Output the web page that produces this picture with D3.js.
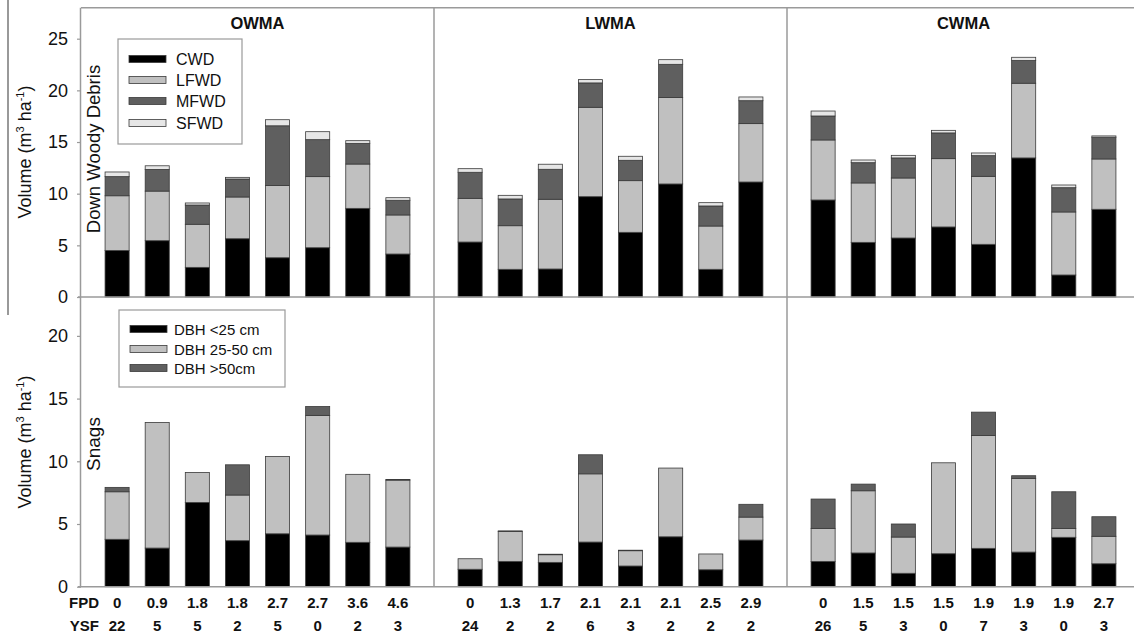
<!DOCTYPE html>
<html><head><meta charset="utf-8">
<script src="https://cdn.jsdelivr.net/npm/d3@7"></script>
<style>body{margin:0;background:#fff}svg{display:block}text{font-family:"Liberation Sans",Arial,sans-serif}</style>
</head><body>
<svg id="c" width="1134" height="638"></svg>
<script>
const areas = ["OWMA","LWMA","CWMA"];
const fpd = [["0","0.9","1.8","1.8","2.7","2.7","3.6","4.6"],["0","1.3","1.7","2.1","2.1","2.1","2.5","2.9"],["0","1.5","1.5","1.5","1.9","1.9","1.9","2.7"]];
const ysf = [["22","5","5","2","5","0","2","3"],["24","2","2","6","3","2","2","2"],["26","5","3","0","7","3","0","3"]];
const dwdKeys = ["CWD","LFWD","MFWD","SFWD"];
const snagKeys = ["DBH <25 cm","DBH 25-50 cm","DBH >50cm"];
// Down woody debris volumes per area [CWD, LFWD, MFWD, SFWD]
const dwdOWMA = [[4.5,5.3,1.85,0.45],[5.45,4.8,2.1,0.35],[2.87,4.17,1.86,0.2],[5.64,4.04,1.74,0.16],[3.8,7.0,5.77,0.59],[4.77,6.88,3.58,0.77],[8.58,4.29,2.0,0.26],[4.16,3.78,1.42,0.25]];
const dwdLWMA = [[5.32,4.23,2.52,0.35],[2.68,4.22,2.59,0.35],[2.71,6.75,2.9,0.49],[9.71,8.65,2.36,0.32],[6.26,5.0,1.97,0.39],[10.94,8.36,3.22,0.45],[2.68,4.19,1.94,0.32],[11.13,5.65,2.22,0.36]];
const dwdCWMA = [[9.39,5.81,2.32,0.48],[5.29,5.75,1.96,0.26],[5.71,5.81,1.94,0.25],[6.78,6.61,2.49,0.25],[5.1,6.58,2.0,0.26],[13.46,7.23,2.19,0.32],[2.13,6.1,2.35,0.26],[8.49,4.87,2.1,0.13]];
// Snag volumes per area [<25, 25-50, >50]
const snagOWMA = [[3.78,3.79,0.35],[3.08,10.02,0],[6.72,2.39,0],[3.67,3.64,2.41],[4.22,6.17,0],[4.12,9.54,0.71],[3.54,5.42,0],[3.16,5.34,0.04]];
const snagLWMA = [[1.39,0.84,0],[2.02,2.39,0.04],[1.94,0.61,0.04],[3.56,5.44,1.52],[1.65,1.22,0.04],[3.98,5.48,0],[1.35,1.26,0],[3.72,1.83,1.02]];
const snagCWMA = [[2.02,2.63,2.34],[2.69,4.96,0.53],[1.07,2.89,1.04],[2.63,7.25,0],[3.06,9.0,1.86],[2.76,5.88,0.21],[3.94,0.71,2.92],[1.83,2.19,1.56]];
const dwdTicks = [0,5,10,15,20,25];
const snagTicks = [0,5,10,15,20];

const dwdColors = ["#000000","#c0c0c0","#5f5f5f","#e6e6e6"];
const snagColors = ["#000000","#c0c0c0","#5f5f5f"];
const dwdData = [dwdOWMA,dwdLWMA,dwdCWMA];
const snagData = [snagOWMA,snagLWMA,snagCWMA];

const svg = d3.select("#c");
const left = 81, panelW = 353;
const panelLefts = [0,1,2].map(i => left + i*panelW);
const yTop = d3.scaleLinear().domain([0,28]).range([297,7.7]);
const yBot = d3.scaleLinear().domain([0,23.1]).range([586.7,297]);
const frame = "#9a9a9a";

function drawStack(data, keys, colors, y, pi){
  const x = d3.scaleBand().domain(d3.range(8)).range([panelLefts[pi], panelLefts[pi]+panelW]).paddingInner(0.4).paddingOuter(0.6);
  const rows = data.map(r => { const o={}; keys.forEach((k,j)=>o[k]=r[j]); return o; });
  const series = d3.stack().keys(keys)(rows);
  const g = svg.append("g");
  series.forEach((s,si) => {
    g.selectAll(null).data(s).join("rect")
      .attr("x",(d,i)=>x(i)).attr("width",x.bandwidth())
      .attr("y",d=>y(d[1])).attr("height",d=>Math.max(0,y(d[0])-y(d[1])))
      .attr("fill",colors[si]).attr("stroke","#3a3a3a").attr("stroke-width",0.8);
  });
  return x;
}

// frames
svg.append("line").attr("x1",left).attr("x2",1134).attr("y1",yTop(28)).attr("y2",yTop(28)).attr("stroke",frame).attr("stroke-width",1.5);
[0,1,2].forEach(i=>{
  drawStack(dwdData[i], dwdKeys, dwdColors, yTop, i);
  const x = drawStack(snagData[i], snagKeys, snagColors, yBot, i);
  fpd[i].forEach((t,j)=>{
    svg.append("text").attr("x",x(j)+x.bandwidth()/2).attr("y",608).attr("text-anchor","middle").attr("font-size",15).attr("font-weight","bold").attr("fill","#111").text(t);
    svg.append("text").attr("x",x(j)+x.bandwidth()/2).attr("y",631).attr("text-anchor","middle").attr("font-size",15).attr("font-weight","bold").attr("fill","#111").text(ysf[i][j]);
  });
  svg.append("text").attr("x",panelLefts[i]+panelW/2).attr("y",29).attr("text-anchor","middle").attr("font-size",16.5).attr("font-weight","bold").attr("fill","#111").text(areas[i]);
  if(i>0) svg.append("line").attr("x1",panelLefts[i]).attr("x2",panelLefts[i]).attr("y1",yTop(28)).attr("y2",yBot(0)).attr("stroke",frame).attr("stroke-width",1.5);
});
svg.append("line").attr("x1",left-3).attr("x2",1134).attr("y1",yTop(0)).attr("y2",yTop(0)).attr("stroke",frame).attr("stroke-width",1.5);
svg.append("line").attr("x1",left-3).attr("x2",1134).attr("y1",yBot(0)).attr("y2",yBot(0)).attr("stroke",frame).attr("stroke-width",1.5);
svg.append("line").attr("x1",8).attr("x2",8).attr("y1",0).attr("y2",315).attr("stroke","#555").attr("stroke-width",1.2);

// y axes
function yAxis(y, ticks){
  const g = svg.append("g").attr("transform",`translate(${left},0)`)
    .call(d3.axisLeft(y).tickValues(ticks).tickSize(4).tickPadding(9).tickFormat(d3.format("d")));
  g.select(".domain").attr("stroke",frame).attr("stroke-width",1.5).attr("d",`M-0.5,${y.range()[0]}V${y.range()[1]}`);
  g.selectAll(".tick line").attr("stroke",frame).attr("stroke-width",1.2);
  g.selectAll(".tick text").attr("font-size",18).attr("fill","#111").attr("font-family","Liberation Sans, Arial, sans-serif");
}
yAxis(yTop, dwdTicks);
yAxis(yBot, snagTicks);

function yTitle(cy){
  const t = svg.append("text").attr("transform",`translate(31,${cy}) rotate(-90)`).attr("text-anchor","middle").attr("font-size",18).attr("fill","#111");
  t.append("tspan").text("Volume (m");
  t.append("tspan").attr("font-size",11).attr("dy",-7).text("3");
  t.append("tspan").attr("dy",7).text(" ha");
  t.append("tspan").attr("font-size",11).attr("dy",-7).text("-1");
  t.append("tspan").attr("dy",7).text(")");
}
yTitle(152); yTitle(442);
svg.append("text").attr("transform","translate(100,149) rotate(-90)").attr("text-anchor","middle").attr("font-size",18.5).attr("fill","#111").text("Down Woody Debris");
svg.append("text").attr("transform","translate(100,444) rotate(-90)").attr("text-anchor","middle").attr("font-size",19).attr("fill","#111").text("Snags");

// legends
function legend(x0,y0,w,h,keys,colors,rowY,fs){
  svg.append("rect").attr("x",x0).attr("y",y0).attr("width",w).attr("height",h).attr("fill","#fff").attr("stroke",frame).attr("stroke-width",1.2);
  keys.forEach((k,i)=>{
    svg.append("rect").attr("x",x0+11).attr("y",y0+rowY[i]-3.5).attr("width",37).attr("height",7).attr("fill",colors[i]).attr("stroke","#3a3a3a").attr("stroke-width",0.8);
    svg.append("text").attr("x",x0+(keys.length>3?58:55)).attr("y",y0+rowY[i]+5.5).attr("font-size",fs).attr("fill","#111").text(k);
  });
}
legend(118,39,124,105,dwdKeys,dwdColors,[20,41,62,84],16);
legend(119,310,166,77,snagKeys,snagColors,[19,39,58],15);

svg.append("text").attr("x",99).attr("y",608).attr("text-anchor","end").attr("font-size",15).attr("font-weight","bold").attr("fill","#111").text("FPD");
svg.append("text").attr("x",99).attr("y",631).attr("text-anchor","end").attr("font-size",15).attr("font-weight","bold").attr("fill","#111").text("YSF");
</script>
</body></html>
